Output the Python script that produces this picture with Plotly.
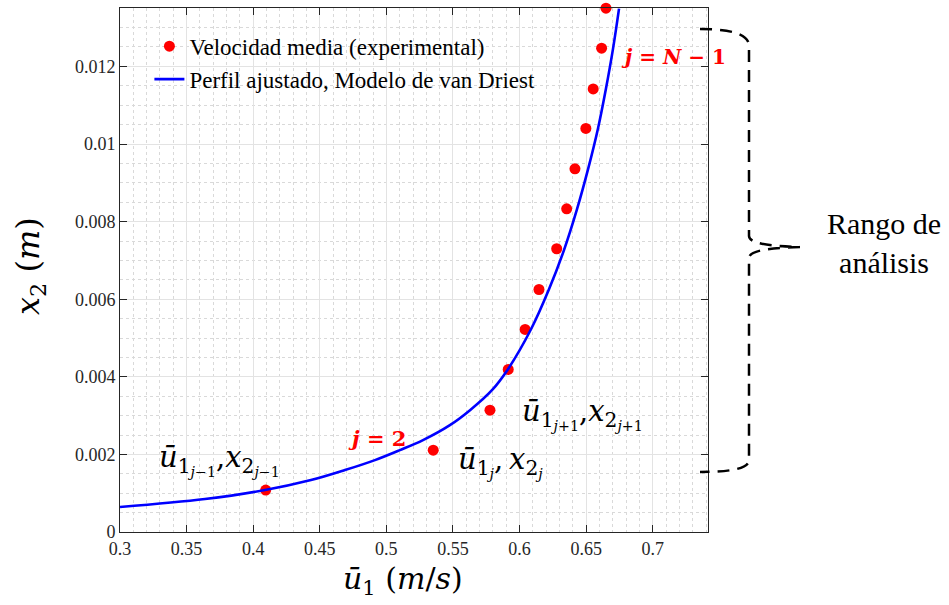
import plotly.graph_objects as go

# Experimental mean velocity points
u_exp = [0.4094, 0.5352, 0.5778, 0.5915, 0.6042, 0.6146, 0.6279, 0.6354, 0.6416, 0.6498, 0.6553, 0.6616, 0.6649]
x2_exp = [0.00108, 0.00211, 0.00314, 0.00419, 0.00522, 0.00625, 0.00730, 0.00833, 0.00936, 0.01040, 0.01142, 0.01247, 0.01350]

# Fitted van Driest profile
u_fit = [0.3000, 0.3638, 0.4089, 0.4434, 0.4689, 0.4914, 0.5102, 0.5275, 0.5477, 0.5628, 0.5793,
         0.5913, 0.6086, 0.6221, 0.6333, 0.6431, 0.6514, 0.6589, 0.6649, 0.6702, 0.6747]
x2_fit = [0.000644, 0.000849, 0.001081, 0.001338, 0.001596, 0.001853, 0.002111, 0.002368, 0.002754,
          0.003140, 0.003655, 0.004196, 0.005225, 0.006255, 0.007259, 0.008314, 0.009344, 0.010399,
          0.011429, 0.012458, 0.013488]

x_ticks = [0.3, 0.35, 0.4, 0.45, 0.5, 0.55, 0.6, 0.65, 0.7]
x_ticktext = ["0.3", "0.35", "0.4", "0.45", "0.5", "0.55", "0.6", "0.65", "0.7"]
y_ticks = [0, 0.002, 0.004, 0.006, 0.008, 0.01, 0.012]
y_ticktext = ["0", "0.002", "0.004", "0.006", "0.008", "0.01", "0.012"]

serif = "Liberation Serif, Times New Roman, serif"
mathf = "DejaVu Serif, serif"
axcol = "#262626"

fig = go.Figure()
fig.add_trace(go.Scatter(x=u_exp, y=x2_exp, mode="markers", name="Velocidad media (experimental)",
                         marker=dict(color="#ff0000", size=11), cliponaxis=False))
fig.add_trace(go.Scatter(x=u_fit, y=x2_fit, mode="lines", name="Perfil ajustado, Modelo de van Driest",
                         line=dict(color="#0000ff", width=2.6, shape="spline", smoothing=1.0)))

PX_L, PX_R, PX_T, PX_B = 120, 708, 8, 532


def px(xp):
    return (xp - PX_L) / (PX_R - PX_L)


def py(yp):
    return (PX_B - yp) / (PX_B - PX_T)


# dashed curly bracket "Rango de análisis"
pts = [(700, 29), (749, 29), (749, 46), (749, 236), (749, 246), (800, 247),
       (749, 248), (749, 258), (749, 460), (749, 472), (700, 472)]
P = [(px(a), py(b)) for a, b in pts]
path = (f"M {P[0][0]},{P[0][1]} Q {P[1][0]},{P[1][1]} {P[2][0]},{P[2][1]} L {P[3][0]},{P[3][1]} "
        f"Q {P[4][0]},{P[4][1]} {P[5][0]},{P[5][1]} "
        f"M {P[5][0]},{P[5][1]} Q {P[6][0]},{P[6][1]} {P[7][0]},{P[7][1]} L {P[8][0]},{P[8][1]} "
        f"Q {P[9][0]},{P[9][1]} {P[10][0]},{P[10][1]}")
fig.add_shape(type="path", path=path, xref="paper", yref="paper",
              line=dict(color="black", width=2.5, dash="12px,8px"))

ann = []
ann.append(dict(text="Rango de<br>análisis", xref="paper", yref="paper", x=px(884), y=py(243),
                showarrow=False, font=dict(family=serif, size=30, color="black"),
                xanchor="center", yanchor="middle"))
# axis titles
ann.append(dict(text="<i>ū</i><sub>1</sub> (<i>m</i>/<i>s</i>)", xref="paper", yref="paper",
                x=px(403), y=py(580), showarrow=False, font=dict(family=mathf, size=30, color="black"),
                xanchor="center", yanchor="middle"))
ann.append(dict(text="<i>x</i><sub>2</sub>\u00a0(<i>m</i>)", xref="paper", yref="paper",
                x=px(30), y=py(266), showarrow=False, textangle=-90,
                font=dict(family=mathf, size=32, color="black"), xanchor="center", yanchor="middle"))
# point labels
ann.append(dict(text="<i>ū</i><sub>1<sub><i>j</i>−1</sub></sub>,<i>x</i><sub>2<sub><i>j</i>−1</sub></sub>",
                xref="x", yref="y", x=0.3278, y=0.00185, showarrow=False,
                font=dict(family=mathf, size=29, color="black"), xanchor="left", yanchor="middle"))
ann.append(dict(text="<i>ū</i><sub>1<sub><i>j</i></sub></sub>,\u2009<i>x</i><sub>2<sub><i>j</i></sub></sub>",
                xref="x", yref="y", x=0.5523, y=0.00180, showarrow=False,
                font=dict(family=mathf, size=29, color="black"), xanchor="left", yanchor="middle"))
ann.append(dict(text="<i>ū</i><sub>1<sub><i>j</i>+1</sub></sub>,<i>x</i><sub>2<sub><i>j</i>+1</sub></sub>",
                xref="x", yref="y", x=0.6003, y=0.00304, showarrow=False,
                font=dict(family=mathf, size=29, color="black"), xanchor="left", yanchor="middle"))
ann.append(dict(text="<b><i>j</i> = 2</b>", xref="x", yref="y", x=0.4933, y=0.00242, showarrow=False,
                font=dict(family=mathf, size=21, color="#ff0000"), xanchor="center", yanchor="middle"))
ann.append(dict(text="<b><i>j</i> = <i>N</i> − 1</b>", xref="x", yref="y", x=0.6746, y=0.01225,
                showarrow=False, font=dict(family=mathf, size=20, color="#ff0000"),
                xanchor="left", yanchor="middle"))

axis_common = dict(showline=True, linecolor=axcol, linewidth=1, mirror="ticks", ticks="inside",
                   ticklen=7, tickcolor=axcol, tickwidth=1, showgrid=True, gridcolor="#e3e3e3",
                   gridwidth=1, zeroline=False, tickfont=dict(family=serif, size=18, color=axcol))

fig.update_layout(
    width=949, height=605, autosize=False,
    margin=dict(l=PX_L, r=949 - PX_R, t=PX_T, b=605 - PX_B),
    plot_bgcolor="white", paper_bgcolor="white",
    xaxis=dict(range=[0.3, 0.7415], tickvals=x_ticks, ticktext=x_ticktext,
               minor=dict(dtick=0.01, tick0=0.3, showgrid=True, gridcolor="#d9d9d9", griddash="dot", gridwidth=1),
               **axis_common),
    yaxis=dict(range=[0, 0.013505], tickvals=y_ticks, ticktext=y_ticktext,
               minor=dict(dtick=0.0005, tick0=0, showgrid=True, gridcolor="#d9d9d9", griddash="dot", gridwidth=1),
               **axis_common),
    legend=dict(x=0.05, y=0.968, xanchor="left", yanchor="top", bgcolor="rgba(0,0,0,0)",
                font=dict(family=serif, size=23, color="black"), tracegroupgap=0),
    annotations=ann,
    showlegend=True,
)

fig.write_html("out.html", config={"displayModeBar": False},
               post_script="document.body.style.margin='0';document.body.style.overflow='hidden';")
